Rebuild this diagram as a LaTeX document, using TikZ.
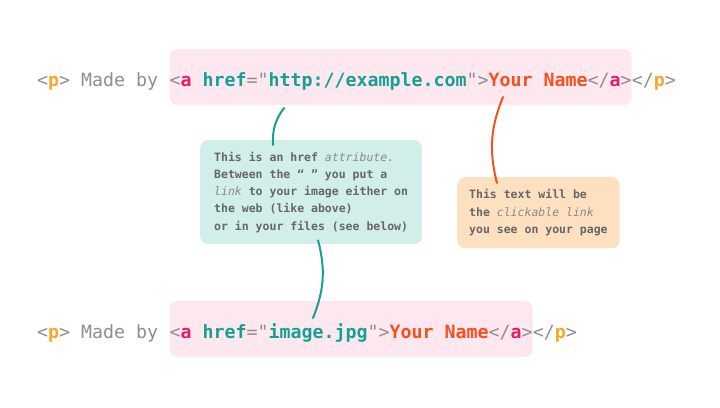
\documentclass[tikz,border=0pt]{standalone}
\usepackage{fontspec}
\setmonofont{DejaVu Sans Mono}
\definecolor{codegray}{HTML}{8E8E8E}
\definecolor{tagpink}{HTML}{E8186D}
\definecolor{ptag}{HTML}{F7A829}
\definecolor{attrteal}{HTML}{16A094}
\definecolor{namered}{HTML}{F4511E}
\definecolor{pinkbg}{HTML}{FCE8EE}
\definecolor{tealbg}{HTML}{D1EEEB}
\definecolor{orangebg}{HTML}{FDE0BF}
\definecolor{notegray}{HTML}{666666}
\definecolor{softgray}{HTML}{8A8A8A}
\newcommand{\br}[1]{\textcolor{codegray}{#1}}
\newcommand{\pt}[1]{\textcolor{ptag}{\textbf{#1}}}
\newcommand{\at}[1]{\textcolor{tagpink}{\textbf{#1}}}
\newcommand{\hr}[1]{\textcolor{attrteal}{\textbf{#1}}}
\newcommand{\nm}[1]{\textcolor{namered}{\textbf{#1}}}
\newcommand{\soft}[1]{\textcolor{softgray}{\mdseries\itshape #1}}
\begin{document}
\begin{tikzpicture}[x=1pt, y=1pt,
    code/.style={inner sep=0pt, font=\ttfamily\fontsize{18.27}{22}\selectfont, text=codegray},
    linkbox/.style={fill=pinkbg, rounded corners=8pt, minimum height=56pt, text height=19pt, text depth=0pt},
    note/.style={rounded corners=8pt, align=left, text=notegray, font=\ttfamily\bfseries\fontsize{11.5}{17.3}\selectfont},
    wire/.style={draw=#1, line width=2pt, line cap=round}]
  \useasboundingbox (0,0) rectangle (720,407);

  % top line
  \node[code, anchor=base west] (preA) at (37, 320.5){\br{<}\pt{p}\br{>} Made by{\ }\kern0pt};
  \node[code, linkbox, anchor=base west] (linkA) at (preA.base east){\br{<}\at{a} \hr{href}\br{=}\br{"}\hr{http://example.com}\br{"}\br{>}\nm{Your Name}\br{</}\at{a}\br{>}};
  \node[code, anchor=base west] (postA) at (linkA.base east){\br{</}\pt{p}\br{>}};

  % bottom line
  \node[code, anchor=base west] (preB) at (37, 68.5){\br{<}\pt{p}\br{>} Made by{\ }\kern0pt};
  \node[code, linkbox, anchor=base west] (linkB) at (preB.base east){\br{<}\at{a} \hr{href}\br{=}\br{"}\hr{image.jpg}\br{"}\br{>}\nm{Your Name}\br{</}\at{a}\br{>}};
  \node[code, anchor=base west] (postB) at (linkB.base east){\br{</}\pt{p}\br{>}};

  % notes
  \node[note, fill=tealbg, inner xsep=14pt, minimum height=104pt, anchor=north west] (hrefNote) at (200, 267){This is an href \soft{attribute.}\\Between the “ ” you put a\\\soft{link} to your image either on\\the web (like above)\\or in your files (see below)};
  \node[note, fill=orangebg, inner xsep=12pt, minimum height=71pt, anchor=north west] (nameNote) at (457, 230){This text will be\\the \soft{clickable link}\\you see on your page};

  % pointers
  \coordinate (urlTip) at (284, 299);
  \coordinate (nameTip) at (503, 310);
  \coordinate (imgTip) at (313, 89);
  \draw[wire=attrteal] ([xshift=-38pt, yshift=-5pt]hrefNote.north) to[bend left=20] (urlTip);
  \draw[wire=namered] (nameTip) to[bend right=18] ([xshift=-41.5pt, yshift=-6pt]nameNote.north);
  \draw[wire=attrteal] ([xshift=7pt, yshift=4pt]hrefNote.south) to[bend left=18] (imgTip);
\end{tikzpicture}
\end{document}
